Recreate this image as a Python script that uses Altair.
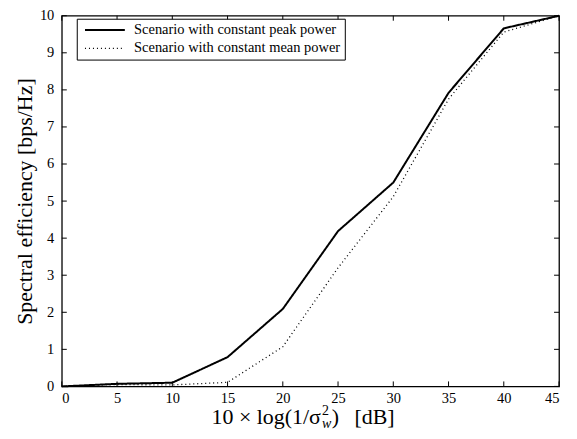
import altair as alt
import pandas as pd

snr_db = [0, 5, 10, 15, 20, 25, 30, 35, 40, 45]
peak_power = [0.0, 0.07, 0.10, 0.79, 2.09, 4.19, 5.50, 7.92, 9.66, 10.0]
mean_power = [0.0, 0.05, 0.04, 0.11, 1.07, 3.20, 5.12, 7.75, 9.56, 10.0]
series_names = ["Scenario with constant peak power", "Scenario with constant mean power"]
x_ticks = [0, 5, 10, 15, 20, 25, 30, 35, 40, 45]
y_ticks = [0, 1, 2, 3, 4, 5, 6, 7, 8, 9, 10]
y_title = "Spectral efficiency [bps/Hz]"
x_title_main = "10 × log(1/σ"
x_title_sup = "2"
x_title_sub = "w"
x_title_end = ")\u2002\u2009[dB]"

W, H = 499, 372
FONT = "'Liberation Serif', 'Times New Roman', serif"

rows = []
for name, vals in zip(series_names, [peak_power, mean_power]):
    for x, y in zip(snr_db, vals):
        rows.append({"snr": x, "se": y, "series": name})
df = pd.DataFrame(rows)

common_axis = dict(labelFont=FONT, labelFontSize=14.5, labelColor="black",
                   titleFont=FONT, titleFontSize=22, titleFontWeight="normal",
                   titleColor="black", domain=False, ticks=False, grid=False,
                   labelOverlap=False, format="d")

xscale = alt.Scale(domain=[0, 45], nice=False, zero=False)
yscale = alt.Scale(domain=[0, 10], nice=False, zero=False)
xaxis = alt.Axis(values=x_ticks, title=None, labelPadding=5, **common_axis)
yaxis = alt.Axis(values=y_ticks, title=y_title, labelPadding=8,
                 titleX=-37, titleY=H / 2, titleAlign="center",
                 titleBaseline="middle", titleAngle=270, **common_axis)

lines = alt.Chart(df).mark_line(color="black").encode(
    x=alt.X("snr:Q", scale=xscale, axis=xaxis),
    y=alt.Y("se:Q", scale=yscale, axis=yaxis),
    strokeDash=alt.StrokeDash(
        "series:N",
        scale=alt.Scale(domain=series_names, range=[[1, 0], [1, 3]]),
        legend=alt.Legend(title=None),
    ),
    strokeWidth=alt.StrokeWidth(
        "series:N",
        scale=alt.Scale(domain=series_names, range=[2.0, 1.3]),
        legend=alt.Legend(title=None),
    ),
)

xt = pd.DataFrame({"snr": x_ticks})
yt = pd.DataFrame({"se": y_ticks})

tick_bottom = alt.Chart(xt).mark_rule(color="black", strokeWidth=1).encode(
    x=alt.X("snr:Q", scale=xscale, axis=xaxis), y=alt.value(H), y2=alt.value(H - 5))
tick_top = alt.Chart(xt).mark_rule(color="black", strokeWidth=1).encode(
    x=alt.X("snr:Q", scale=xscale, axis=xaxis), y=alt.value(0), y2=alt.value(5))
tick_left = alt.Chart(yt).mark_rule(color="black", strokeWidth=1).encode(
    y=alt.Y("se:Q", scale=yscale, axis=yaxis), x=alt.value(0), x2=alt.value(5))
tick_right = alt.Chart(yt).mark_rule(color="black", strokeWidth=1).encode(
    y=alt.Y("se:Q", scale=yscale, axis=yaxis), x=alt.value(W), x2=alt.value(W - 5))

TB = H + 38  # title baseline (plot coords)
one = pd.DataFrame({"a": [0]})
t_main = alt.Chart(one).mark_text(text=x_title_main, font=FONT, fontSize=22, align="right",
                                  baseline="alphabetic", color="black").encode(
    x=alt.value(260), y=alt.value(TB))
t_sup = alt.Chart(one).mark_text(text=x_title_sup, font=FONT, fontSize=14, align="left",
                                 baseline="alphabetic", color="black").encode(
    x=alt.value(261), y=alt.value(TB - 9))
t_sub = alt.Chart(one).mark_text(text=x_title_sub, font=FONT, fontSize=14, fontStyle="italic",
                                 align="left", baseline="alphabetic", color="black").encode(
    x=alt.value(261), y=alt.value(TB + 4))
t_end = alt.Chart(one).mark_text(text=x_title_end, font=FONT, fontSize=22, align="left",
                                 baseline="alphabetic", color="black").encode(
    x=alt.value(271), y=alt.value(TB))

chart = alt.layer(
    lines, tick_bottom, tick_top, tick_left, tick_right, t_main, t_sup, t_sub, t_end
).properties(
    width=W, height=H,
    autosize=alt.AutoSizeParams(type="none"),
    padding={"left": 54, "top": 7, "right": 10, "bottom": 52},
).configure(
    font=FONT,
    style={"guide-label": {"font": FONT}, "guide-title": {"font": FONT}},
).configure_view(
    stroke="black", strokeWidth=1.3
).configure_axis(
    labelFont=FONT, titleFont=FONT,
).configure_legend(
    orient="none", legendX=15, legendY=3, padding=4,
    strokeColor="black", fillColor="white", cornerRadius=0,
    labelFont=FONT, labelFontSize=14.5, labelColor="black", labelLimit=500,
    symbolSize=100, symbolType="M-4,0L4,0", symbolStrokeColor="black",
    symbolOffset=17, labelOffset=22, rowPadding=3.5,
)

chart.save("out.html", embed_options={"renderer": "svg", "actions": False})
